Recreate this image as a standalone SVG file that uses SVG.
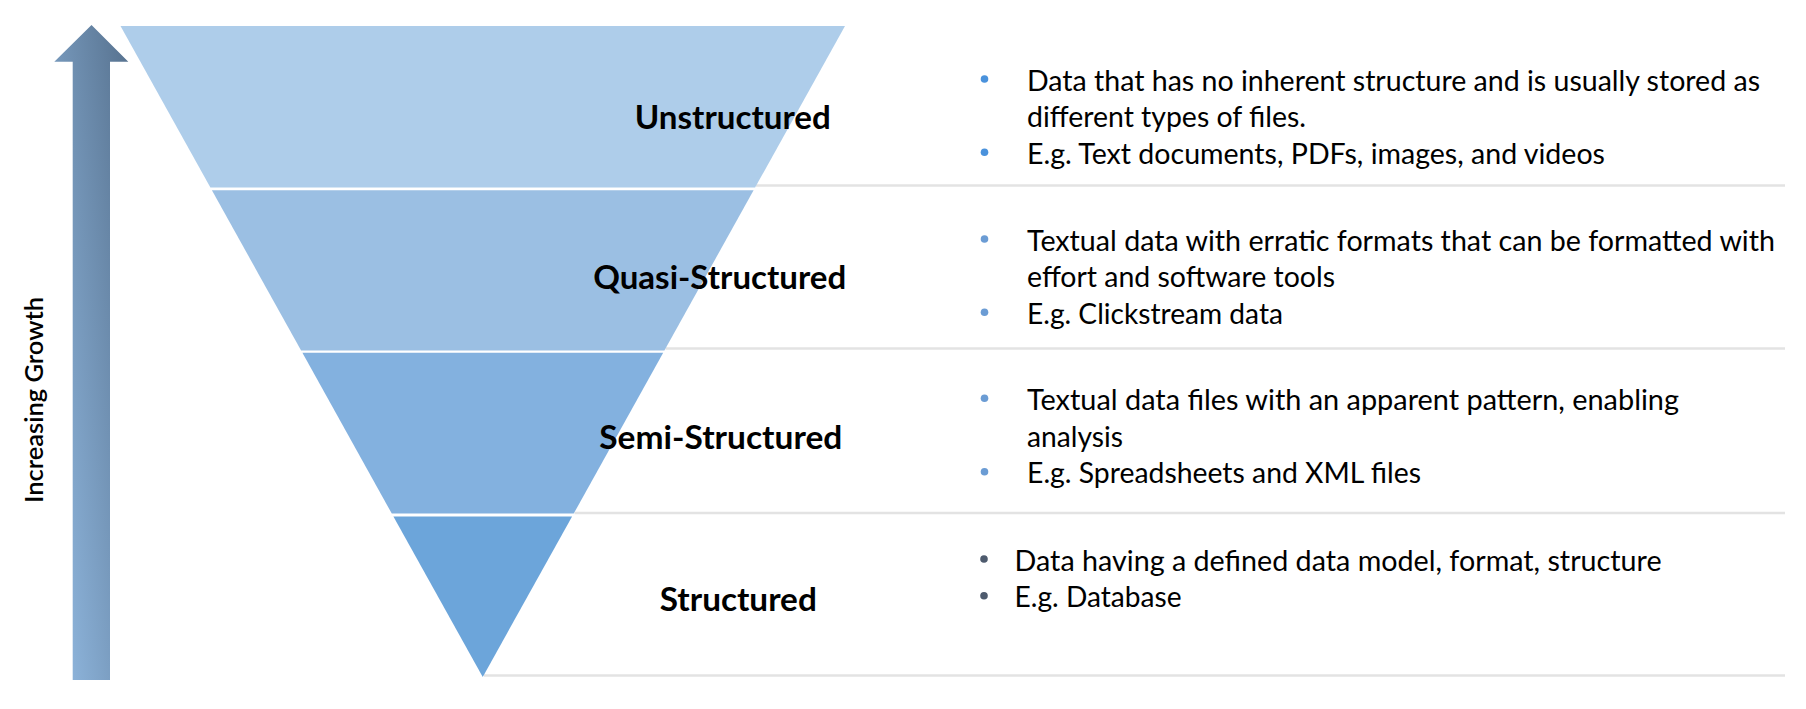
<svg xmlns="http://www.w3.org/2000/svg" width="1806" height="709" viewBox="0 0 1806 709">
  <defs>
    <linearGradient id="arrowFill" x1="0" y1="1" x2="1" y2="0">
      <stop offset="0" stop-color="#93BBE3"/>
      <stop offset="1" stop-color="#56718E"/>
    </linearGradient>
    <style>
      .label { font-family: "Lato", "Liberation Sans", sans-serif; font-weight: bold; font-size: 32px; fill: #000; }
      .body { font-family: "Lato", "Liberation Sans", sans-serif; font-size: 28px; fill: #000; }
      .axis { font-family: "Lato", "Liberation Sans", sans-serif; font-weight: 600; font-size: 25px; fill: #000; }
      .sep { stroke: #E3E3E3; stroke-width: 2.5; fill: none; }
      .dot-a { fill: #4A92DC; }
      .dot-b { fill: #6B9CD4; }
      .dot-c { fill: #4E5B6E; }
    </style>
  </defs>

  <rect width="1806" height="709" fill="#FFFFFF"/>

  <!-- growth arrow -->
  <g id="growth-arrow">
    <polygon points="91.5,25 128.3,61.7 110,61.7 110,680 72.7,680 72.7,61.7 54.3,61.7" fill="url(#arrowFill)"/>
    <text class="axis" transform="translate(43,400) rotate(-90)" text-anchor="middle" textLength="206" lengthAdjust="spacingAndGlyphs">Increasing Growth</text>
  </g>

  <!-- row separators -->
  <g id="connectors">
    <line class="sep" x1="756" y1="185.5" x2="1785" y2="185.5"/>
    <line class="sep" x1="665.5" y1="348.5" x2="1785" y2="348.5"/>
    <line class="sep" x1="574.5" y1="513" x2="1785" y2="513"/>
    <line class="sep" x1="484" y1="675.5" x2="1785" y2="675.5"/>
  </g>

  <!-- funnel levels -->
  <g id="level-unstructured">
    <polygon points="120.5,26 845,26 755.1,187.6 210.4,187.6" fill="#AECDEA"/>
    <text class="label" x="732.8" y="129" text-anchor="middle" textLength="196" lengthAdjust="spacingAndGlyphs">Unstructured</text>
    <circle class="dot-a" cx="984.5" cy="79" r="3.8"/>
    <text class="body" x="1027" y="90.7" textLength="733" lengthAdjust="spacingAndGlyphs">Data that has no inherent structure and is usually stored as</text>
    <text class="body" x="1027" y="127.3" textLength="279" lengthAdjust="spacingAndGlyphs">different types of files.</text>
    <circle class="dot-a" cx="984.5" cy="152.3" r="3.8"/>
    <text class="body" x="1027" y="164" textLength="578" lengthAdjust="spacingAndGlyphs">E.g. Text documents, PDFs, images, and videos</text>
  </g>

  <g id="level-quasi-structured">
    <polygon points="211.9,190.3 753.6,190.3 664.4,350.5 301.1,350.5" fill="#9BBFE3"/>
    <text class="label" x="719.7" y="288.5" text-anchor="middle" textLength="253" lengthAdjust="spacingAndGlyphs">Quasi-Structured</text>
    <circle class="dot-b" cx="984.5" cy="239" r="3.8"/>
    <text class="body" x="1027" y="250.7" textLength="748" lengthAdjust="spacingAndGlyphs">Textual data with erratic formats that can be formatted with</text>
    <text class="body" x="1027" y="287.3" textLength="308" lengthAdjust="spacingAndGlyphs">effort and software tools</text>
    <circle class="dot-b" cx="984.5" cy="312.3" r="3.8"/>
    <text class="body" x="1027" y="324" textLength="256" lengthAdjust="spacingAndGlyphs">E.g. Clickstream data</text>
  </g>

  <g id="level-semi-structured">
    <polygon points="302.4,352.8 663.2,352.8 573.7,513.6 391.8,513.6" fill="#83B1DF"/>
    <text class="label" x="720.8" y="449.3" text-anchor="middle" textLength="243" lengthAdjust="spacingAndGlyphs">Semi-Structured</text>
    <circle class="dot-b" cx="984.5" cy="398.3" r="3.8"/>
    <text class="body" x="1027" y="410" textLength="652" lengthAdjust="spacingAndGlyphs">Textual data files with an apparent pattern, enabling</text>
    <text class="body" x="1027" y="446.7" textLength="96" lengthAdjust="spacingAndGlyphs">analysis</text>
    <circle class="dot-b" cx="984.5" cy="471.7" r="3.8"/>
    <text class="body" x="1027" y="483.3" textLength="394" lengthAdjust="spacingAndGlyphs">E.g. Spreadsheets and XML files</text>
  </g>

  <g id="level-structured">
    <polygon points="393.4,516.4 572.1,516.4 482.75,677" fill="#6CA5DA"/>
    <text class="label" x="738.3" y="610.7" text-anchor="middle" textLength="157" lengthAdjust="spacingAndGlyphs">Structured</text>
    <circle class="dot-c" cx="984" cy="559" r="3.8"/>
    <text class="body" x="1014.6" y="570.7" textLength="647" lengthAdjust="spacingAndGlyphs">Data having a defined data model, format, structure</text>
    <circle class="dot-c" cx="984" cy="595.7" r="3.8"/>
    <text class="body" x="1014.6" y="607.3" textLength="167" lengthAdjust="spacingAndGlyphs">E.g. Database</text>
  </g>
</svg>
